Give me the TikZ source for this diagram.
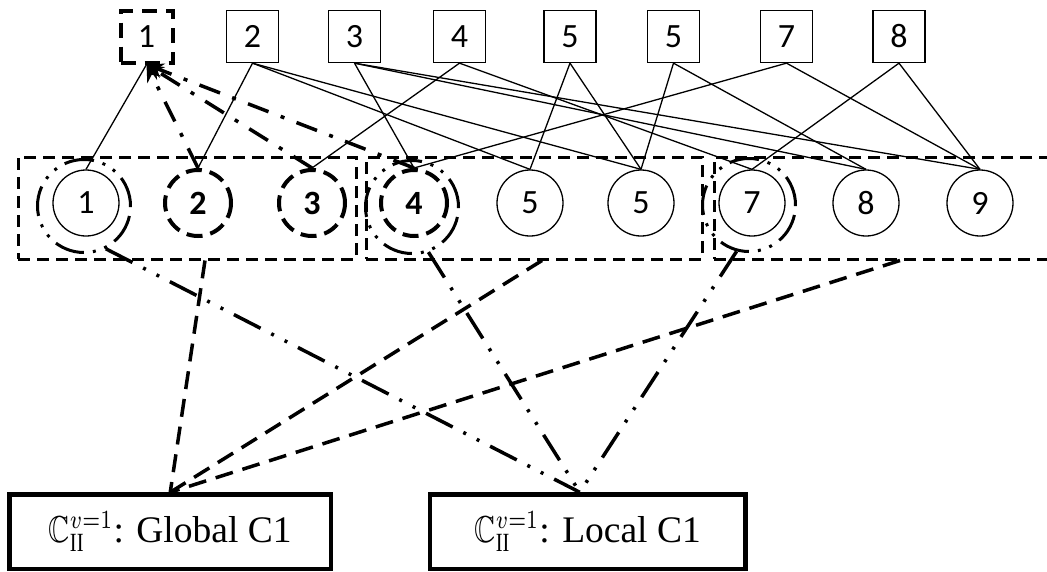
\documentclass[tikz,border=0pt]{standalone}
\usepackage{fontspec}
\usepackage{amssymb}
\usepackage{graphicx}
\setmainfont{Liberation Serif}
\newfontfamily\numfont{Carlito}
\usetikzlibrary{arrows.meta}

\begin{document}
\begin{tikzpicture}[x=1pt,y=-1pt,
  sq/.style={draw, line width=1.3pt, minimum size=52pt, inner sep=0pt,
    font=\numfont\fontsize{34}{34}\selectfont},
  hotsq/.style={sq, line width=4pt, dash pattern=on 15pt off 9pt},
  vx/.style={draw, circle, line width=1.3pt, minimum size=66pt, inner sep=0pt,
    font=\numfont\fontsize{34}{34}\selectfont},
  hotvx/.style={vx, line width=4pt, dash pattern=on 16pt off 8pt,
    font=\numfont\bfseries\fontsize{34}{34}\selectfont},
  ring/.style={draw, circle, line width=3pt, minimum size=93pt, inner sep=0pt,
    dash pattern=on 30pt off 9pt on 3pt off 9pt on 3pt off 9pt},
  grp/.style={draw, line width=3pt, dash pattern=on 12pt off 7pt,
    minimum width=336pt, minimum height=102pt, inner sep=0pt},
  cls/.style={draw, line width=4.5pt, minimum height=74.5pt, inner sep=0pt},
  edge/.style={line width=1.3pt},
  vote/.style={line width=3.5pt, dash pattern=on 22pt off 13pt on 4pt off 13pt,
    -{Stealth[length=17pt,width=15pt]}},
  toglobal/.style={line width=3.5pt, dash pattern=on 18pt off 10pt},
  tolocal/.style={line width=3.5pt,
    dash pattern=on 30pt off 12pt on 3pt off 12pt on 3pt off 12pt},
]
\useasboundingbox (0,0) rectangle (1047,571);

% clusters of the lower row
\node[grp, minimum width=338pt] (g1) at (187,208) {};
\node[grp] (g2) at (534,208) {};
\node[grp] (g3) at (882,208) {};

% upper row
\node[hotsq] (s1) at (146.5,36.5) {1};
\node[sq] (s2) at (252.5,36.5) {2};
\node[sq] (s3) at (354.5,36.5) {3};
\node[sq] (s4) at (459.5,36.5) {4};
\node[sq] (s5) at (570,36.5) {5};
\node[sq] (s6) at (673.5,36.5) {5};
\node[sq] (s7) at (786.5,36.5) {7};
\node[sq] (s8) at (899,36.5) {8};

% lower row
\node[vx] (c1) at (86,203) {1};
\node[hotvx] (c2) at (198,203) {2};
\node[hotvx] (c3) at (312,203) {3};
\node[hotvx] (c4) at (414,203) {4};
\node[vx] (c5) at (530,203) {5};
\node[vx] (c6) at (641,203) {5};
\node[vx] (c7) at (752,203) {7};
\node[vx] (c8) at (866,203) {8};
\node[vx] (c9) at (980,203) {9};

% rings around the chosen vertices
\node[ring] (r1) at (84,206) {};
\node[ring] (r4) at (412,207) {};
\node[ring] (r7) at (749,205) {};

% bipartite edges
\draw[edge] (s1.south) -- (c1.north);
\draw[edge] (s2.south) -- (c2.north);
\draw[edge] (s2.south) -- (c5.north);
\draw[edge] (s2.south) -- (c6.north);
\draw[edge] (s3.south) -- (c4.north);
\draw[edge] (s3.south) -- (c8.north);
\draw[edge] (s3.south) -- (c9.north);
\draw[edge] (s4.south) -- (c3.north);
\draw[edge] (s4.south) -- (c7.north);
\draw[edge] (s5.south) -- (c5.north);
\draw[edge] (s5.south) -- (c6.north);
\draw[edge] (s6.south) -- (c6.north);
\draw[edge] (s6.south) -- (c8.north);
\draw[edge] (s7.south) -- (c4.north);
\draw[edge] (s7.south) -- (c9.north);
\draw[edge] (s8.south) -- (c7.north);
\draw[edge] (s8.south) -- (c9.north);

% votes towards the first check node
\draw[vote] (c2.north) -- (s1.south);
\draw[vote] (c3.north) -- (s1.south);
\draw[vote] (c4.north) -- (s1.south);

% result boxes
\newcommand\clsname{\scalebox{0.78}[1]{$\mathbb{C}_{\mathrm{II}}^{v=1}$}}
\node[cls, minimum width=321.5pt] (global) at (170.25,531.75)
  {\scalebox{3.75}{\clsname: Global C1}};
\node[cls, minimum width=315.5pt] (local) at (587.75,531.75)
  {\scalebox{3.75}{\clsname: Local C1}};
\coordinate (lin) at ([xshift=-8pt]local.north);

% clusters feeding the global result
\draw[toglobal] ([xshift=18pt]g1.south) -- (global.north);
\draw[toglobal] ([xshift=8pt]g2.south) -- (global.north);
\draw[toglobal] ([xshift=18pt]g3.south) -- (global.north);

% chosen vertices feeding the local result
\draw[tolocal] (r1.-63) -- (lin);
\draw[tolocal] (r4.-70) -- (lin);
\draw[tolocal] (r7.-105) -- (lin);
\end{tikzpicture}
\end{document}
